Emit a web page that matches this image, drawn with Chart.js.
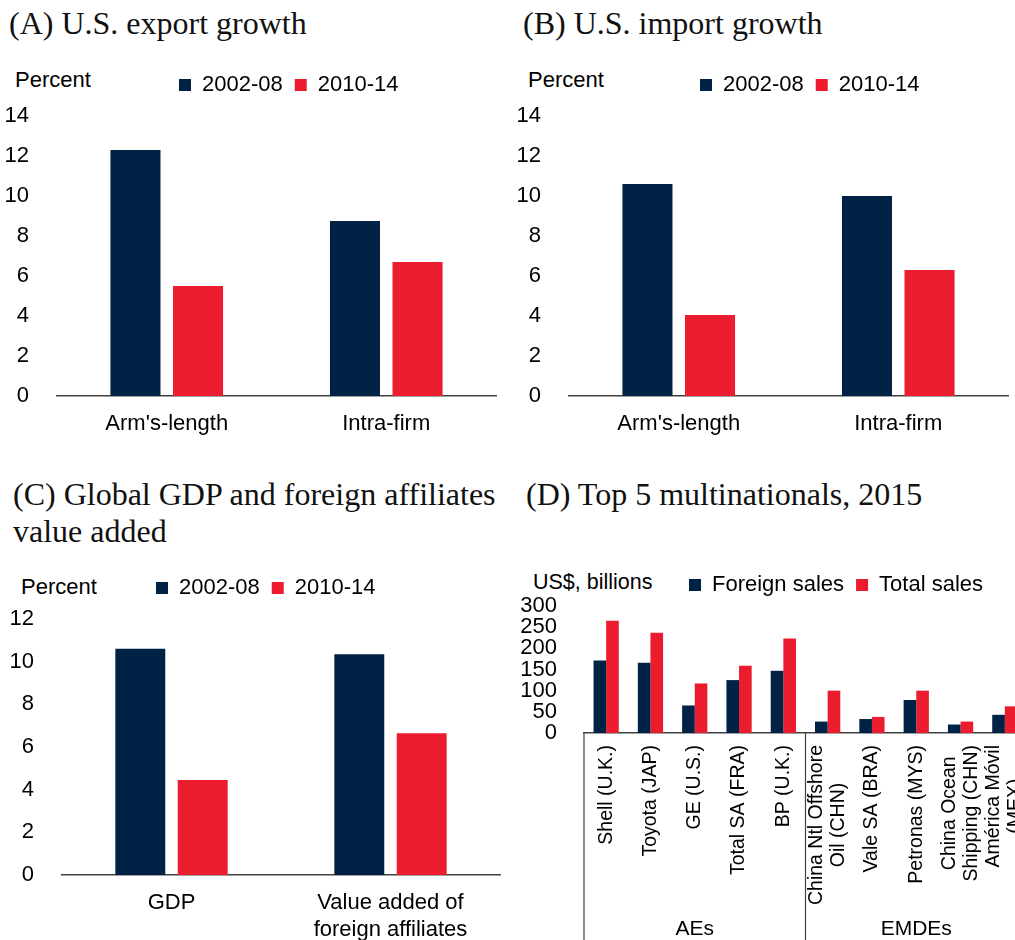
<!DOCTYPE html>
<html>
<head>
<meta charset="utf-8">
<title>Trade and multinationals</title>
<script src="https://cdn.jsdelivr.net/npm/chart.js@4.4.1/dist/chart.umd.min.js"></script>
<style>
  body { margin: 0; width: 1015px; height: 940px; overflow: hidden; background: #fff; position: relative;
         font-family: "Liberation Sans", Arial, sans-serif; }
  .title { position: absolute; font-family: "Liberation Serif", serif; font-size: 32px; color: #111;
           line-height: 37px; white-space: nowrap; }
  .unit { position: absolute; font-size: 22px; line-height: 24px; color: #000; white-space: nowrap; }
  canvas { position: absolute; }
</style>
</head>
<body>
<div class="title" style="left:9px;top:5px">(A) U.S. export growth</div>
<div class="title" style="left:523px;top:5px">(B) U.S. import growth</div>
<div class="title" style="left:13px;top:476px">(C) Global GDP and foreign affiliates<br>value added</div>
<div class="title" style="left:526px;top:476px">(D) Top 5 multinationals, 2015</div>

<div class="unit" style="left:15px;top:68px">Percent</div>
<div class="unit" style="left:528px;top:68px">Percent</div>
<div class="unit" style="left:21px;top:575px">Percent</div>
<div class="unit" style="left:533px;top:570px;font-size:21.5px">US$, billions</div>

<canvas id="chartA" width="500" height="386" style="left:0px;top:60px"></canvas>
<canvas id="chartB" width="505" height="386" style="left:510px;top:60px"></canvas>
<canvas id="chartC" width="505" height="377" style="left:0px;top:563px"></canvas>
<canvas id="chartD" width="507" height="380" style="left:520px;top:560px"></canvas>

<script>
var seriesNames = ['2002-08', '2010-14'];

// (A) and (B)
var tradeCats = ["Arm's-length", 'Intra-firm'];
var exportEarly = [12.3, 8.75];
var exportLate = [5.5, 6.7];
var importEarly = [10.6, 10.0];
var importLate = [4.05, 6.3];

// (C)
var gdpCats = ['GDP', ['Value added of', 'foreign affiliates']];
var gdpEarly = [10.6, 10.35];
var gdpLate = [4.45, 6.65];

// (D)
var firms = ['Shell (U.K.)', 'Toyota (JAP)', 'GE (U.S.)', 'Total SA (FRA)', 'BP (U.K.)',
  ['China Ntl Offshore', 'Oil (CHN)'], 'Vale SA (BRA)', 'Petronas (MYS)',
  ['China Ocean', 'Shipping (CHN)'], ['América Móvil', '(MEX)']];
var salesNames = ['Foreign sales', 'Total sales'];
var foreignSales = [171, 166, 65, 125, 147, 27, 33, 78, 20, 43];
var totalSales = [265, 237, 117, 159, 223, 100, 38, 100, 27, 63];
var groupNames = ['AEs', 'EMDEs'];
var groupSizes = [5, 5];

var NAVY = '#002345';
var RED = '#EB1C2D';
var AXIS = '#404040';
var FONT = '"Liberation Sans", Arial, sans-serif';

// put the legend at a given x (and nudge it up) instead of centring it
var legendAt = {
  id: 'legendAt',
  afterLayout: function (chart, args, opts) {
    var lg = chart.legend;
    if (!lg || opts.x == null) return;
    var w = lg.right - lg.left;
    lg.left = opts.x - lg.options.labels.padding;
    lg.right = lg.left + w;
    if (opts.dy) { lg.top += opts.dy; lg.bottom += opts.dy; }
  }
};

// rotated firm names, group separators and group names under the axis
var groupAxis = {
  id: 'groupAxis',
  afterDraw: function (chart, args, opts) {
    if (!opts.names) return;
    var x = chart.scales.x, ctx = chart.ctx;
    var step = x.getPixelForValue(1) - x.getPixelForValue(0);
    var top = chart.chartArea.bottom, bottom = chart.height;
    ctx.save();
    ctx.fillStyle = '#000';

    ctx.font = opts.labelSize + 'px ' + FONT;
    chart.data.labels.forEach(function (lab, i) {
      var lines = Array.isArray(lab) ? lab : [lab];
      var widest = Math.max.apply(null, lines.map(function (l) { return ctx.measureText(l).width; }));
      var cx = x.getPixelForValue(i);
      var cy = top + opts.labelPad + widest / 2;
      lines.forEach(function (line, j) {
        ctx.save();
        ctx.translate(cx + (j - (lines.length - 1) / 2) * opts.lineHeight, cy);
        ctx.rotate(-Math.PI / 2);
        ctx.textAlign = 'center';
        ctx.textBaseline = 'middle';
        ctx.fillText(line, 0, 0);
        ctx.restore();
      });
    });

    ctx.strokeStyle = AXIS;
    ctx.lineWidth = 1.2;
    ctx.font = '21px ' + FONT;
    ctx.textAlign = 'center';
    ctx.textBaseline = 'alphabetic';
    var start = 0;
    opts.names.forEach(function (name, i) {
      var left = x.getPixelForValue(start) - step / 2;
      var right = x.getPixelForValue(start + opts.sizes[i] - 1) + step / 2;
      ctx.beginPath();
      ctx.moveTo(left, top);
      ctx.lineTo(left, bottom);
      ctx.stroke();
      ctx.fillText(name, (left + right) / 2, bottom - 5);
      start += opts.sizes[i];
    });
    ctx.restore();
  }
};

Chart.register(legendAt, groupAxis);

function growthChart(id, cats, early, late, yMax, yWidth, xHeight, legendX, padRight) {
  var font = { family: FONT, size: 22 };
  return new Chart(document.getElementById(id), {
    type: 'bar',
    data: {
      labels: cats,
      datasets: [
        { label: seriesNames[0], data: early, backgroundColor: NAVY, categoryPercentage: 0.57, barPercentage: 0.8 },
        { label: seriesNames[1], data: late, backgroundColor: RED, categoryPercentage: 0.57, barPercentage: 0.8 }
      ]
    },
    options: {
      responsive: false,
      animation: false,
      layout: { padding: { top: 12, right: padRight, bottom: 0, left: 0 } },
      plugins: {
        legend: { align: 'start', labels: { boxWidth: 12, boxHeight: 12, padding: 12, color: '#000', font: font } },
        tooltip: { enabled: false },
        legendAt: { x: legendX, dy: -10 }
      },
      scales: {
        x: {
          grid: { display: false },
          border: { color: AXIS, width: 1.5 },
          ticks: { color: '#000', font: font, padding: 7 },
          afterFit: function (s) { s.height = xHeight; }
        },
        y: {
          min: 0, max: yMax,
          grid: { display: false },
          border: { display: false },
          ticks: { stepSize: 2, color: '#000', font: font, padding: 20 },
          afterFit: function (s) { s.width = yWidth; }
        }
      }
    }
  });
}

growthChart('chartA', tradeCats, exportEarly, exportLate, 14, 57, 50, 179, 4);
growthChart('chartB', tradeCats, importEarly, importLate, 14, 59, 50, 190, 7);
growthChart('chartC', gdpCats, gdpEarly, gdpLate, 12, 62, 65, 156, 5);

new Chart(document.getElementById('chartD'), {
  type: 'bar',
  data: {
    labels: firms,
    datasets: [
      { label: salesNames[0], data: foreignSales, backgroundColor: NAVY, categoryPercentage: 0.57, barPercentage: 1 },
      { label: salesNames[1], data: totalSales, backgroundColor: RED, categoryPercentage: 0.57, barPercentage: 1 }
    ]
  },
  options: {
    responsive: false,
    animation: false,
    layout: { padding: { top: 2, right: 0, bottom: 0, left: 0 } },
    plugins: {
      legend: { align: 'start', labels: { boxWidth: 12, boxHeight: 12, padding: 12, color: '#000',
        font: { family: FONT, size: 22 } } },
      tooltip: { enabled: false },
      legendAt: { x: 169, dy: 0 },
      groupAxis: { names: groupNames, sizes: groupSizes, labelSize: 19.5, labelPad: 12, lineHeight: 22 }
    },
    scales: {
      x: {
        grid: { display: false },
        border: { color: AXIS, width: 1.5 },
        ticks: { display: false },
        afterFit: function (s) { s.height = 207; }
      },
      y: {
        min: 0, max: 300,
        grid: { display: false },
        border: { display: false },
        ticks: { stepSize: 50, autoSkip: false, color: '#000', padding: 19,
          font: { family: FONT, size: 22, lineHeight: 1 } },
        afterFit: function (s) { s.width = 64; }
      }
    }
  }
});
</script>
</body>
</html>
